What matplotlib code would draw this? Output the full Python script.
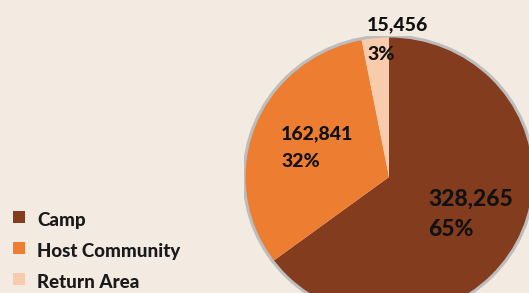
import matplotlib
matplotlib.use("Agg")
import matplotlib.pyplot as plt
from matplotlib.patches import Rectangle, Ellipse

categories = ["Camp", "Host Community", "Return Area"]
values = [328265, 162841, 15456]
percents = ["65%", "32%", "3%"]
colors = ["#843c1e", "#ed7d31", "#f8cbad"]
bg = "#f3eae1"

W, H = 529, 293
fig = plt.figure(figsize=(W / 100, H / 100), dpi=100, facecolor=bg)
plt.rcParams['font.family'] = ['Lato', 'DejaVu Sans']

cx, cy, rx, ry = 389, 177, 145, 141
ax = fig.add_axes([(cx - rx) / W, (H - cy - ry) / H, 2 * rx / W, 2 * ry / H])
ax.axis('off')

ax.pie(values, colors=colors, startangle=90, counterclock=False, radius=1,
       wedgeprops=dict(linewidth=0))
ax.set_xlim(-1, 1)
ax.set_ylim(-1, 1)
ax.set_aspect('auto')
ax.add_patch(Ellipse((0, 0), 2.0, 2.0, fill=False, edgecolor="#bdbdbd", linewidth=2.2, zorder=5))

# data labels: (x, baseline of value, baseline of percent, fontsize) in pixels
label_pos = [(428, 206, 236, 16.5), (281, 139, 167, 14), (367, 30, 60, 14)]
for v, p, (x, y1, y2, fs) in zip(values, percents, label_pos):
    fig.text(x / W, 1 - y1 / H, f"{v:,}", ha='left', va='baseline', fontsize=fs,
             fontweight='black', color='#111111')
    fig.text(x / W, 1 - y2 / H, p, ha='left', va='baseline', fontsize=fs,
             fontweight='black', color='#111111')

# legend
leg_y = [226, 257, 288]
for name, col, y in zip(categories, colors, leg_y):
    fig.patches.append(Rectangle((13 / W, 1 - (y - 3) / H), 12 / W, 12 / H,
                                 transform=fig.transFigure, facecolor=col, edgecolor='none'))
    fig.text(37 / W, 1 - y / H, name, ha='left', va='baseline', fontsize=13.5,
             fontweight='black', color='#1a1a1a')

fig.savefig("out.png", dpi=100, facecolor=bg)
